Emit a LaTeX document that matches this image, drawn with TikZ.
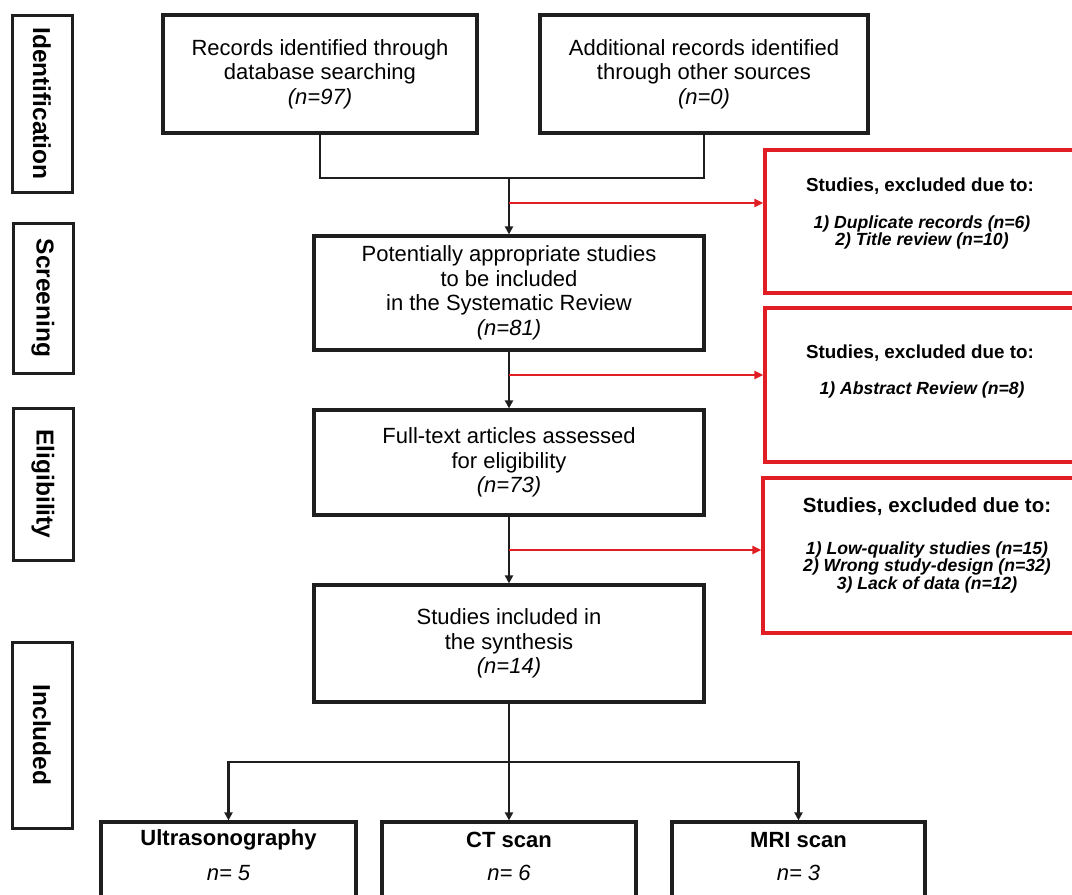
\documentclass[tikz,border=0pt]{standalone}
\usepackage{fontspec}
\setmainfont{Liberation Sans}
\usetikzlibrary{arrows.meta}
\definecolor{exred}{RGB}{225,30,35}
\definecolor{ink}{RGB}{30,30,30}
\tikzset{
 box/.style={draw=ink, line width=3.2pt, fill=white, align=center, inner sep=0pt, font=\fontsize{22}{24.5}\selectfont},
 side/.style={draw=ink, line width=3pt, rotate=-90, inner sep=0pt, font=\bfseries\fontsize{24.5}{26}\selectfont},
 redbox/.style={draw=exred, line width=3.3pt, fill=white, inner sep=0pt},
 conn/.style={draw=ink, line width=2.6pt},
 arr/.style={conn, -{Triangle[length=8pt,width=8pt]}},
 redarr/.style={draw=exred, line width=2.4pt, -{Triangle[length=9pt,width=8pt]}},
 redtitle/.style={font=\bfseries\fontsize{18.8}{20}\selectfont},
 redtitlebig/.style={font=\bfseries\fontsize{20.5}{22}\selectfont},
 reditems/.style={align=center, font=\bfseries\itshape\fontsize{17.6}{17.5}\selectfont},
 bottitle/.style={font=\bfseries\fontsize{22}{24}\selectfont},
 botn/.style={font=\itshape\fontsize{22}{24}\selectfont},
}
\begin{document}
\begin{tikzpicture}[x=1pt,y=-1pt]
\useasboundingbox (0,0) rectangle (1072,895);
\clip (0,0) rectangle (1072,895);
% side labels
\node[side, minimum width=177pt, minimum height=60pt] (sid) at (42,103.5) {Identification};
\node[side, minimum width=150pt, minimum height=60pt] (sscr) at (43,298) {Screening};
\node[side, minimum width=152pt, minimum height=60pt] (selig) at (43,484) {Eligibility};
\node[side, minimum width=186pt, minimum height=60pt] (sinc) at (42,735) {Included};
% main boxes
\node[box, minimum width=314pt, minimum height=118pt] (b1) at (320,74) {Records identified through\\database searching\\\textit{(n=97)}};
\node[box, minimum width=328pt, minimum height=118pt] (b2) at (704,74) {Additional records identified\\through other sources\\\textit{(n=0)}};
\node[box, minimum width=390pt, minimum height=114pt] (b3) at (509,293) {Potentially appropriate studies\\to be included\\in the Systematic Review\\\textit{(n=81)}};
\node[box, minimum width=390pt, minimum height=105pt] (b4) at (509,462.5) {Full-text articles assessed\\for eligibility\\\textit{(n=73)}};
\node[box, minimum width=390pt, minimum height=117pt] (b5) at (509,643.5) {Studies included in\\the synthesis\\\textit{(n=14)}};
% red boxes
\node[redbox, minimum width=311pt, minimum height=143pt] (r1) at (920.5,221.5) {};
\node[redbox, minimum width=311pt, minimum height=154pt] (r2) at (920.5,385) {};
\node[redbox, minimum width=313pt, minimum height=155pt] (r3) at (919.5,555.5) {};
\node[redtitle] (t1) at (920,186) {Studies, excluded due to:};
\node[reditems] (i1) at (922,232.5) {1) Duplicate records (n=6)\\2) Title review (n=10)};
\node[redtitle] (t2) at (920,353) {Studies, excluded due to:};
\node[reditems] (i2) at (922,390) {1) Abstract Review (n=8)};
\node[redtitlebig] (t3) at (927,507) {Studies, excluded due to:};
\node[reditems] (i3) at (927,567) {1) Low-quality studies (n=15)\\2) Wrong study-design (n=32)\\3) Lack of data (n=12)};
% bottom boxes
\node[box, minimum width=255pt, minimum height=90pt] (us) at (228.5,867) {};
\node[box, minimum width=254pt, minimum height=90pt] (ct) at (509,867) {};
\node[box, minimum width=253pt, minimum height=90pt] (mri) at (798.5,867) {};
\node[bottitle] (ust) at (228.5,840) {Ultrasonography};
\node[botn] (usn) at (228.5,873) {n= 5};
\node[bottitle] (ctt) at (509,840) {CT scan};
\node[botn] (ctn) at (509,873) {n= 6};
\node[bottitle] (mrit) at (798.5,840) {MRI scan};
\node[botn] (mrin) at (798.5,873) {n= 3};
% connectors
\coordinate (j1) at (509,178);
\draw[conn] (b1.south) |- (j1) -| (b2.south);
\draw[arr] (j1) -- (b3.north);
\coordinate (k1) at (509,203);
\draw[redarr] (k1) -- (k1 -| r1.west);
\coordinate (k2) at (509,375);
\draw[arr] (b3.south) -- (b4.north);
\draw[redarr] (k2) -- (k2 -| r2.west);
\coordinate (k3) at (509,550);
\draw[arr] (b4.south) -- (b5.north);
\draw[redarr] (k3) -- (k3 -| r3.west);
\coordinate (j2) at (509,762);
\draw[conn] (b5.south) -- (j2);
\draw[arr] (j2) -| (us.north);
\draw[arr] (j2) -- (ct.north);
\draw[arr] (j2) -| (mri.north);
\end{tikzpicture}
\end{document}
